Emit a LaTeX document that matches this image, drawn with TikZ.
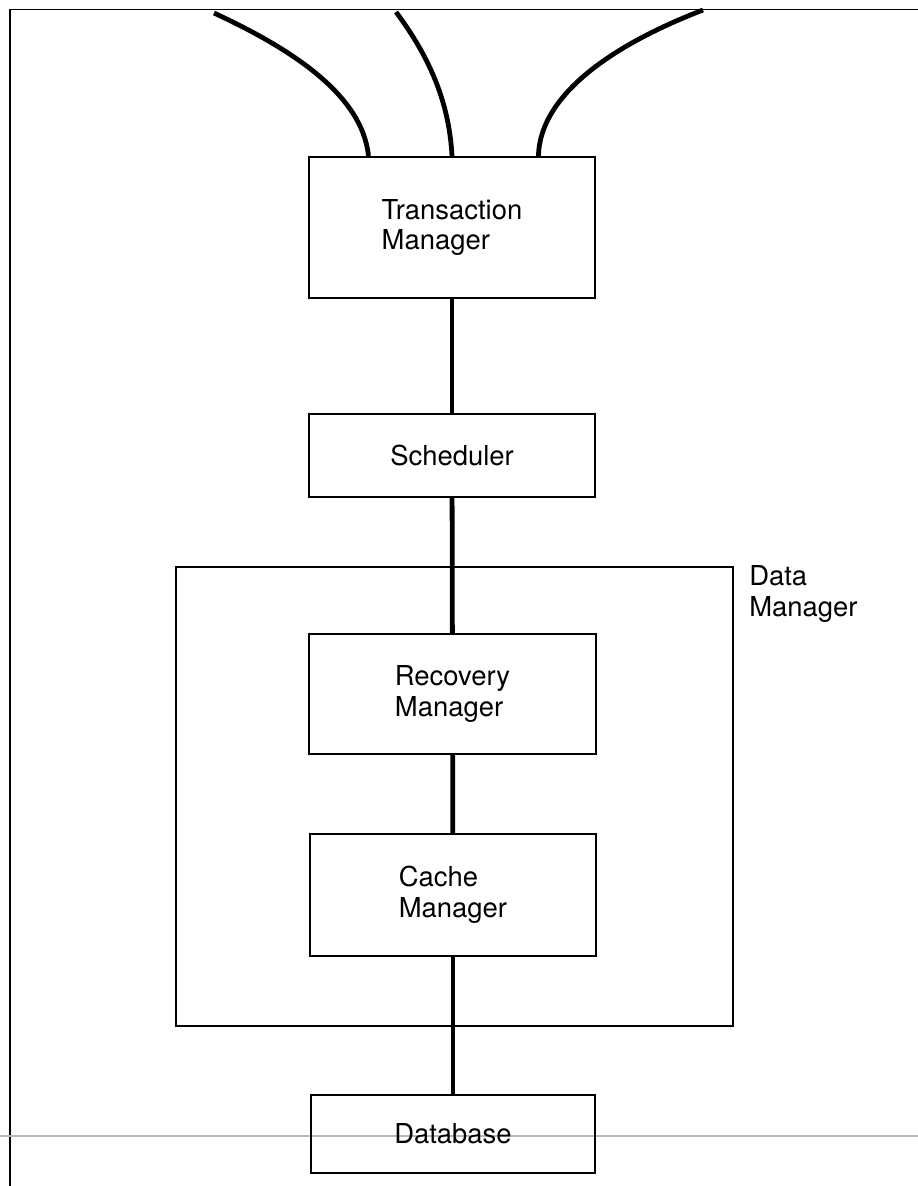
\documentclass[tikz,border=0pt]{standalone}
\usepackage{fontspec}
\setmainfont{TeX Gyre Heros}
\usepackage{tikz}
\usetikzlibrary{positioning,calc}
\tikzset{
  every picture/.style = {
    x = 0.025cm,
    y = -0.025cm,
  }
  ,
  frame/.style = {
    line width = 1.3pt
  }
  ,
  unit/.style = {
    rectangle,
    draw,
    line width = 1.4pt,
    font = \fontsize{19.5}{22}\selectfont,
    align = left,
    inner sep = 0pt,
    minimum width = 7.15cm
  }
  , % the big box round the data manager
  group/.style = {
    rectangle,
    draw,
    line width = 1.2pt,
    minimum width = 13.93cm,
    minimum height = 11.48cm
  }
  , % the thick lines between the boxes
  link/.style = {
    line width = 3.4pt
  }
}

\begin{document}
\begin{tikzpicture}
\useasboundingbox (0,0) rectangle (918,1186);

% frame of the page
\draw[frame] (10,1186) -- (10,9.5) -- (918,9.5);
\draw[gray!55, line width=1pt] (0,1136) -- (918,1136);

\node[unit, minimum height = 3.53cm] at (452,227.5) (tm) {Transaction\\Manager};
\node[unit, minimum height = 2.08cm] at (452,455.5) (sched) {Scheduler};
\node[group] at (454.5,796.5) (dm) {};
\node[font = \fontsize{19.5}{22}\selectfont, align = left, anchor = north west, inner sep = 0pt] at (749,565) (dmlabel) {Data\\Manager};
\node[unit, minimum height = 3.0cm] at (452.5,694) (rm) {Recovery\\Manager};
\node[unit, minimum height = 3.05cm] at (453,895) (cm) {Cache\\Manager};
\node[unit, minimum width = 7.1cm, minimum height = 1.95cm] at (453,1134) (db) {Database};

% lines coming in from the top
\coordinate (in1) at (214,13);
\coordinate (in2) at (396,12);
\coordinate (in3) at (703,10);
\draw[link] (in1) .. controls (285,46) and (362,92) .. ($(tm.north west)!0.21!(tm.north east)$);
\draw[link] (in2) .. controls (428,55) and (449,100) .. (tm.north);
\draw[link] (in3) .. controls (612,45) and (540,95) .. ($(tm.north west)!0.80!(tm.north east)$);

\draw[link] (tm) -- (sched);
\draw[link] (sched) -- (rm);
\draw[link] (rm) -- (cm);
\draw[link] (cm) -- (db);
\end{tikzpicture}
\end{document}
